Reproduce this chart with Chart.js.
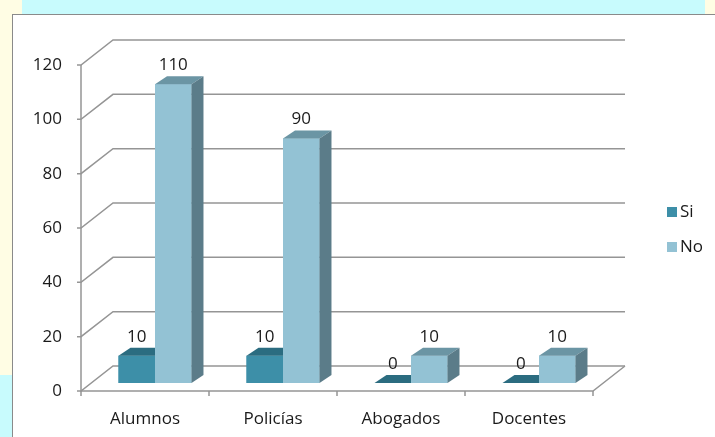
<!DOCTYPE html>
<html>
<head>
<meta charset="utf-8">
<script src="https://cdn.jsdelivr.net/npm/chart.js@4.4.1/dist/chart.umd.min.js"></script>
<style>
html, body { margin: 0; padding: 0; }
body { width: 715px; height: 437px; overflow: hidden; background: #c8fbfd; position: relative; }
#cream { position: absolute; left: 0; top: 0; width: 12px; height: 375px; background: #fffde4; }
#creamTop { position: absolute; left: 0; top: 0; width: 22px; height: 14px; background: #fffde4; }
#creamRight { position: absolute; right: 0; top: 0; width: 10px; height: 14px; background: #fffde4; }
#panel { position: absolute; left: 12px; top: 14px; right: 0; bottom: 0; background: #fff;
         border-top: 1px solid #8a8a8a; border-left: 1px solid #8a8a8a; }
#wrap { position: absolute; left: 0; top: 0; width: 715px; height: 437px; }
</style>
</head>
<body>
<div id="cream"></div>
<div id="creamTop"></div>
<div id="creamRight"></div>
<div id="panel"></div>
<div id="wrap"><canvas id="chart"></canvas></div>
<script>
// DATA
const categories = ["Alumnos", "Policías", "Abogados", "Docentes"];
const seriesNames = ["Si", "No"];
const siValues = [10, 10, 0, 0];
const noValues = [110, 90, 10, 10];
const yTicks = [0, 20, 40, 60, 80, 100, 120];

// STYLES
const faceColors = ["#3d8fa8", "#93c2d4"];
const topColors = ["#2b6c80", "#6b95a4"];
const sideColors = ["#2a6578", "#5b7c89"];
const FONT = "'Open Sans', sans-serif";
const TEXT = "#1a1a1a";
const GRID = "#959595";

// 3D offsets (bar depth, front floor edge, back wall)
const DX = 12, DY = 8;
const FRONT = { x: -10, y: 8 };
const BACK = { x: 22, y: -17 };

const walls = {
    id: "walls",
    beforeDatasetsDraw(chart) {
        const { ctx, chartArea: a, scales: { y } } = chart;
        const n = categories.length;
        const y0 = y.getPixelForValue(0);
        const yTop = y.getPixelForValue(yTicks[yTicks.length - 1]);
        ctx.save();
        ctx.strokeStyle = GRID;
        ctx.lineWidth = 1.5;
        yTicks.forEach(v => {
            const py = y.getPixelForValue(v);
            ctx.beginPath();
            ctx.moveTo(a.left + FRONT.x - 4, py + FRONT.y);
            ctx.lineTo(a.left + FRONT.x, py + FRONT.y);
            ctx.lineTo(a.left + BACK.x, py + BACK.y);
            ctx.lineTo(a.right + BACK.x, py + BACK.y);
            ctx.stroke();
        });
        // front axis
        ctx.beginPath();
        ctx.moveTo(a.left + FRONT.x, yTop + FRONT.y);
        ctx.lineTo(a.left + FRONT.x, y0 + FRONT.y);
        // floor
        ctx.lineTo(a.right + FRONT.x, y0 + FRONT.y);
        ctx.lineTo(a.right + BACK.x, y0 + BACK.y);
        ctx.stroke();
        // category ticks
        for (let i = 0; i <= n; i++) {
            const px = a.left + FRONT.x + i * a.width / n;
            ctx.beginPath();
            ctx.moveTo(px, y0 + FRONT.y);
            ctx.lineTo(px, y0 + FRONT.y + 5);
            ctx.stroke();
        }
        ctx.restore();
    },
    afterDatasetsDraw(chart) {
        const ctx = chart.ctx;
        ctx.save();
        // redraw fronts in series order, then the top and side of each bar
        chart.data.datasets.forEach((ds, i) => {
            chart.getDatasetMeta(i).data.forEach(bar => {
                const { x, y, base, width } = bar.getProps(["x", "y", "base", "width"], true);
                const l = x - width / 2, r = x + width / 2;
                bar.draw(ctx);
                ctx.fillStyle = topColors[i];
                ctx.beginPath();
                ctx.moveTo(l, y);
                ctx.lineTo(r, y);
                ctx.lineTo(r + DX, y - DY);
                ctx.lineTo(l + DX, y - DY);
                ctx.closePath();
                ctx.fill();
                ctx.fillStyle = sideColors[i];
                ctx.beginPath();
                ctx.moveTo(r, y);
                ctx.lineTo(r + DX, y - DY);
                ctx.lineTo(r + DX, base - DY);
                ctx.lineTo(r, base);
                ctx.closePath();
                ctx.fill();
            });
        });
        // value labels
        ctx.font = "17px " + FONT;
        ctx.fillStyle = TEXT;
        ctx.textAlign = "center";
        ctx.textBaseline = "middle";
        chart.data.datasets.forEach((ds, i) => {
            chart.getDatasetMeta(i).data.forEach((bar, j) => {
                ctx.fillText(String(ds.data[j]), bar.x, bar.y - 19);
            });
        });
        // legend
        ctx.textAlign = "left";
        chart.data.datasets.forEach((ds, i) => {
            const ly = 212 + i * 35;
            ctx.fillStyle = faceColors[i];
            ctx.fillRect(667, ly - 5, 10, 10);
            ctx.fillStyle = TEXT;
            ctx.fillText(ds.label, 680, ly);
        });
        ctx.restore();
    }
};

new Chart(document.getElementById("chart"), {
    type: "bar",
    data: {
        labels: categories,
        datasets: [
            { label: seriesNames[0], data: siValues, backgroundColor: faceColors[0] },
            { label: seriesNames[1], data: noValues, backgroundColor: faceColors[1] }
        ]
    },
    options: {
        responsive: true,
        maintainAspectRatio: false,
        animation: false,
        datasets: { bar: { categoryPercentage: 0.57, barPercentage: 1, borderWidth: 0 } },
        layout: { padding: { top: 57, right: 112, bottom: 0, left: 0 } },
        plugins: { legend: { display: false }, tooltip: { enabled: false } },
        scales: {
            x: {
                grid: { display: false, drawTicks: false },
                border: { display: false },
                ticks: { font: { family: FONT, size: 17 }, color: TEXT, padding: 26, labelOffset: -10, maxRotation: 0 },
                afterFit: s => { s.height = 54; }
            },
            y: {
                min: 0, max: 120,
                afterBuildTicks: s => { s.ticks = yTicks.map(v => ({ value: v })); },
                grid: { display: false, drawTicks: false },
                border: { display: false },
                ticks: { font: { family: FONT, size: 17 }, color: TEXT, padding: 29, labelOffset: 8 },
                afterFit: s => { s.width = 91; }
            }
        }
    },
    plugins: [walls]
});
</script>
</body>
</html>
